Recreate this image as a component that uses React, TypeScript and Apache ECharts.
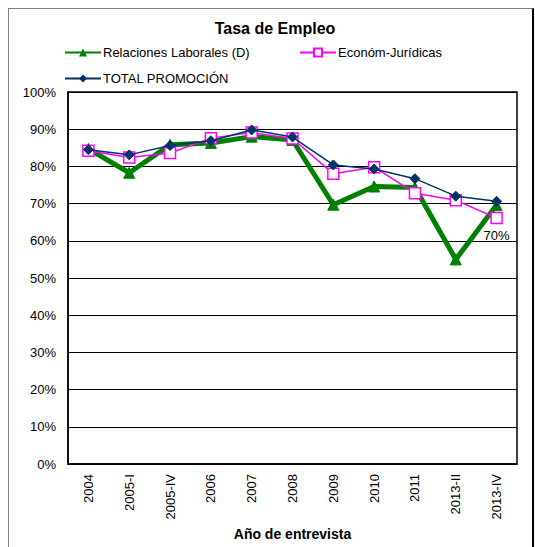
import React, { useEffect, useRef } from "react";
import * as echarts from "echarts";

const categories = ["2004", "2005-I", "2005-IV", "2006", "2007", "2008", "2009", "2010", "2011", "2013-II", "2013-IV"];
const relacionesLaborales = [84.7, 78.3, 85.8, 86.3, 88.0, 87.1, 69.7, 74.6, 74.3, 55.0, 69.6];
const economJuridicas = [84.2, 82.4, 83.6, 87.6, 89.1, 87.5, 78.0, 79.8, 72.8, 70.9, 66.1];
const totalPromocion = [84.5, 83.1, 85.6, 86.9, 89.8, 87.9, 80.4, 79.3, 76.7, 72.0, 70.6];
const yTicks = [0, 10, 20, 30, 40, 50, 60, 70, 80, 90, 100];

const FONT = "Liberation Sans, Arial, sans-serif";

export default function App() {
  const ref = useRef<HTMLDivElement>(null);
  useEffect(() => {
    if (!ref.current) return;
    const chart = echarts.init(ref.current, undefined, { renderer: "svg" });
    const lastIdx = relacionesLaborales.length - 1;
    const legendText = { fontFamily: FONT, fontSize: 13, color: "#000", padding: [0, 0, 0, -3] };
    chart.setOption({
      animation: false,
      backgroundColor: "transparent",
      textStyle: { fontFamily: FONT },
      title: {
        text: "Tasa de Empleo",
        left: 270,
        textAlign: "center",
        top: 15,
        textStyle: { fontFamily: FONT, fontSize: 16, fontWeight: "bold", color: "#000" },
      },
      legend: [
        {
          data: ["Relaciones Laborales (D)"],
          left: 59,
          top: 41,
          itemWidth: 36,
          itemHeight: 10,
          textStyle: legendText,
        },
        {
          data: ["Económ-Jurídicas"],
          left: 294,
          top: 41,
          itemWidth: 36,
          itemHeight: 10,
          textStyle: legendText,
        },
        {
          data: ["TOTAL PROMOCIÓN"],
          left: 59,
          top: 67,
          itemWidth: 36,
          itemHeight: 10,
          textStyle: legendText,
        },
      ],
      grid: { left: 68, right: 18, top: 92, bottom: 83, containLabel: false, show: true, borderColor: "#000", borderWidth: 1.5 },
      xAxis: {
        type: "category",
        data: categories,
        boundaryGap: true,
        axisLine: { show: true, lineStyle: { color: "#000", width: 1.5 } },
        axisTick: { show: false },
        axisLabel: { rotate: 90, fontFamily: FONT, fontSize: 13, color: "#000", margin: 10, interval: 0 },
        name: "Año de entrevista",
        nameLocation: "middle",
        nameGap: 60,
        nameTextStyle: { fontFamily: FONT, fontSize: 14, fontWeight: "bold", color: "#000" },
      },
      yAxis: {
        type: "value",
        min: yTicks[0],
        max: yTicks[yTicks.length - 1],
        interval: 10,
        axisLine: { show: true, lineStyle: { color: "#000", width: 1.5 } },
        axisTick: { show: false },
        axisLabel: { formatter: "{value}%", fontFamily: FONT, fontSize: 13, color: "#000", margin: 12 },
        splitLine: { show: true, lineStyle: { color: "#000", width: 1 } },
      },
      series: [
        {
          name: "Relaciones Laborales (D)",
          type: "line",
          data: relacionesLaborales.map((v, i) =>
            i === lastIdx
              ? {
                  value: v,
                  label: {
                    show: true,
                    position: "bottom",
                    distance: 18,
                    formatter: (p: any) => Math.round(p.value) + "%",
                    fontFamily: FONT,
                    fontSize: 13,
                    color: "#000",
                  },
                }
              : v
          ),
          symbol: "triangle",
          symbolSize: 11,
          lineStyle: { color: "#008000", width: 5 },
          itemStyle: { color: "#008000", borderColor: "#008000" },
          z: 2,
        },
        {
          name: "Económ-Jurídicas",
          type: "line",
          data: economJuridicas,
          symbol: "rect",
          symbolSize: 11,
          lineStyle: { color: "#ff00ff", width: 1.5 },
          itemStyle: { color: "#ffffff", borderColor: "#ff00ff", borderWidth: 1.5 },
          z: 3,
        },
        {
          name: "TOTAL PROMOCIÓN",
          type: "line",
          data: totalPromocion,
          symbol: "diamond",
          symbolSize: 10,
          lineStyle: { color: "#003366", width: 1.5 },
          itemStyle: { color: "#003366", borderColor: "#003366" },
          z: 4,
        },
      ],
    });
    return () => chart.dispose();
  }, []);

  return (
    <div style={{ position: "fixed", left: 0, top: 0, width: 535, height: 547, overflow: "hidden", background: "#fff" }}>
      <div
        style={{
          position: "absolute",
          left: 8,
          top: 8,
          width: 526,
          height: 600,
          borderLeft: "1px solid #808080",
          borderTop: "1px solid #808080",
          borderRight: "2px solid #000",
          boxSizing: "border-box",
        }}
      />
      <div ref={ref} style={{ position: "absolute", left: 0, top: 0, width: 535, height: 547 }} />
    </div>
  );
}
